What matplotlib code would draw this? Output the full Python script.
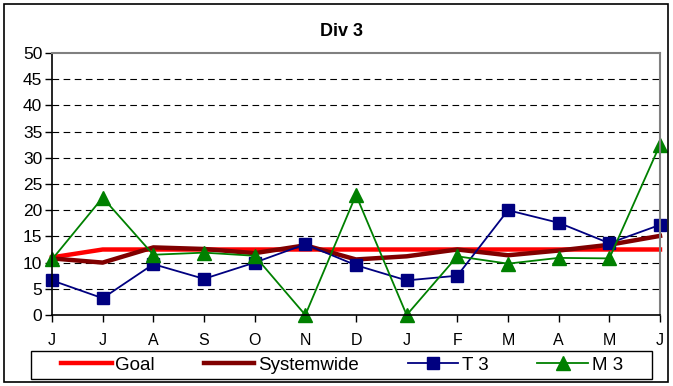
import matplotlib
matplotlib.use("Agg")
import matplotlib.pyplot as plt
from matplotlib.patches import Rectangle

plt.rcParams['font.family'] = ['Liberation Sans', 'DejaVu Sans']

months = ["J", "J", "A", "S", "O", "N", "D", "J", "F", "M", "A", "M", "J"]
goal = [11, 12.5, 12.5, 12.5, 12.5, 12.5, 12.5, 12.5, 12.5, 12.5, 12.5, 12.5, 12.5]
systemwide = [10.8, 10.0, 12.9, 12.6, 11.8, 13.3, 10.6, 11.2, 12.5, 11.4, 12.3, 13.4, 15.1]
t3 = [6.6, 3.2, 9.7, 6.9, 10.0, 13.5, 9.5, 6.6, 7.5, 20.0, 17.6, 13.7, 17.2]
m3 = [10.6, 22.4, 11.5, 11.9, 11.3, 0.0, 22.9, 0.0, 11.2, 9.8, 10.9, 10.8, 32.5]
yticks = list(range(0, 55, 5))

W, H = 673, 386
fig = plt.figure(figsize=(W / 100, H / 100), dpi=100)
fig.patch.set_facecolor("white")

# outer chart border
fig.patches.append(Rectangle((4 / W, 4 / H), (668 - 4) / W, (382 - 4) / H,
                             transform=fig.transFigure, fill=False,
                             edgecolor="black", linewidth=1.2))
# legend box
fig.patches.append(Rectangle((31 / W, 1 - 379 / H), (652 - 31) / W, (379 - 351) / H,
                             transform=fig.transFigure, fill=False,
                             edgecolor="black", linewidth=1.0))

left, right, top, bottom = 52, 660, 53, 315
ax = fig.add_axes([left / W, 1 - bottom / H, (right - left) / W, (bottom - top) / H])

x = list(range(len(months)))
ax.plot(x, goal, color="#ff0000", linewidth=3.2, label="Goal", zorder=3)
ax.plot(x, systemwide, color="#800000", linewidth=3.2, label="Systemwide", zorder=4)
ax.plot(x, t3, color="#000080", linewidth=1.3, marker="s", markersize=9,
        markerfacecolor="#000080", markeredgecolor="#000080", label="T 3", zorder=5)
ax.plot(x, m3, color="#008000", linewidth=1.3, marker="^", markersize=9.5,
        markerfacecolor="#008000", markeredgecolor="#008000", label="M 3", zorder=6)

ax.set_xlim(0, len(months) - 1)
ax.set_ylim(0, 50)
ax.set_yticks(yticks)
ax.set_yticklabels([str(v) for v in yticks], fontsize=12.5)
ax.set_xticks(x)
ax.set_xticklabels(months, fontsize=11.5)
ax.tick_params(axis="y", direction="out", length=5, width=1, pad=2)
ax.tick_params(axis="x", direction="out", length=5, width=1, pad=8)
for v in yticks[1:-1]:
    ax.axhline(v, color="black", linestyle=(0, (6, 4)), linewidth=0.8, zorder=1)

ax.spines["left"].set_color("black")
ax.spines["bottom"].set_color("black")
ax.spines["left"].set_linewidth(1.2)
ax.spines["bottom"].set_linewidth(1.2)
ax.spines["top"].set_color("#808080")
ax.spines["right"].set_color("#808080")
ax.spines["top"].set_linewidth(1.5)
ax.spines["right"].set_linewidth(1.5)
for s in ax.spines.values():
    s.set_zorder(7)
for line in ax.lines:
    line.set_clip_on(False)

fig.text(341 / W, 1 - 31 / H, "Div 3", ha="center", va="center",
         fontsize=13, fontweight="bold")

leg = fig.legend(loc="center", ncol=4,
                 bbox_to_anchor=(342 / W, 1 - 365 / H),
                 fontsize=13.5, frameon=False, handlelength=2.7,
                 handletextpad=0.2, columnspacing=2.6, borderaxespad=0, borderpad=0)

fig.savefig("out.png", dpi=100)
